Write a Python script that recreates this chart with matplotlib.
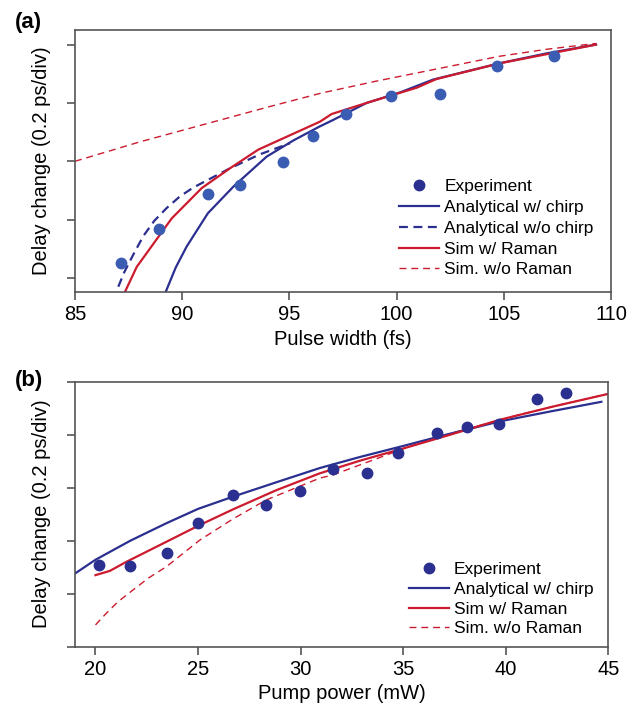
import matplotlib
matplotlib.use('Agg')
import matplotlib.pyplot as plt

plt.rcParams['font.family'] = ['Liberation Sans', 'DejaVu Sans']

navy = '#2b2f8f'
dotblue = '#3a5db3'
red = '#cc1b2e'
grey = '#555555'

# ---- panel (a): delay vs pulse width ----
a_exp_x = [87.13, 88.93, 91.22, 92.70, 94.69, 96.09, 97.64, 99.72, 102.02, 104.67, 107.36]
a_exp_y = [0.25, 0.835, 1.44, 1.59, 1.98, 2.44, 2.81, 3.12, 3.16, 3.64, 3.80]

a_chirp_x = [89.23, 89.7, 90.21, 91.2, 92.4, 93.94, 95.2, 96.43, 97.05, 98.6, 100.16, 101.7, 104.8, 107.0, 109.3]
a_chirp_y = [-0.24, 0.18, 0.54, 1.11, 1.57, 2.08, 2.36, 2.6, 2.71, 3.0, 3.18, 3.4, 3.68, 3.85, 4.0]

a_nochirp_x = [87.02, 87.3, 87.72, 88.19, 88.7, 89.28, 89.9, 90.52, 91.4, 92.23, 93.63, 95.03]
a_nochirp_y = [-0.15, 0.1, 0.4, 0.72, 0.98, 1.2, 1.4, 1.55, 1.72, 1.88, 2.12, 2.31]

a_raman_x = [87.33, 87.88, 89.51, 90.91, 92.23, 93.55, 94.87, 96.43, 96.97, 98.6, 100.93, 101.86, 104.82, 109.3]
a_raman_y = [-0.24, 0.19, 1.02, 1.54, 1.88, 2.2, 2.42, 2.68, 2.81, 3.0, 3.26, 3.41, 3.68, 4.0]

a_noraman_x = [85.0, 88.0, 91.0, 94.0, 96.5, 99.0, 101.7, 104.8, 107.0, 109.3]
a_noraman_y = [2.0, 2.33, 2.63, 2.93, 3.17, 3.37, 3.57, 3.8, 3.92, 4.02]

# ---- panel (b): delay vs pump power ----
b_exp_x = [20.18, 21.7, 23.49, 25.0, 26.68, 28.33, 29.99, 31.58, 33.24, 34.75, 36.65, 38.13, 39.65, 41.54, 42.95]
b_exp_y = [1.55, 1.53, 1.76, 2.34, 2.86, 2.67, 2.94, 3.35, 3.28, 3.65, 4.03, 4.15, 4.2, 4.67, 4.78]

b_chirp_x = [19.0, 20.0, 21.7, 23.46, 25.0, 26.7, 28.8, 30.93, 32.9, 34.83, 37.3, 39.7, 42.2, 44.66]
b_chirp_y = [1.38, 1.64, 2.0, 2.33, 2.6, 2.83, 3.1, 3.37, 3.58, 3.77, 4.02, 4.25, 4.44, 4.62]

b_raman_x = [20.0, 20.7, 21.5, 23.46, 25.0, 26.7, 28.8, 30.93, 32.9, 34.83, 37.3, 39.7, 42.3, 45.0]
b_raman_y = [1.35, 1.43, 1.6, 1.98, 2.28, 2.59, 2.95, 3.27, 3.51, 3.72, 4.0, 4.28, 4.53, 4.77]

b_noraman_x = [20.0, 20.5, 21.1, 21.83, 22.6, 23.46, 25.08, 26.7, 28.33, 30.93, 31.58, 34.83, 36.45, 38.5, 40.5, 42.5, 45.0]
b_noraman_y = [0.41, 0.62, 0.85, 1.07, 1.3, 1.51, 2.01, 2.41, 2.77, 3.18, 3.24, 3.71, 3.93, 4.15, 4.36, 4.55, 4.77]

fig = plt.figure(figsize=(6.37, 7.13), dpi=100)
ax1 = fig.add_axes([0.1177, 0.5905, 0.8415, 0.3674])
ax2 = fig.add_axes([0.1177, 0.0930, 0.8373, 0.3717])

for ax in (ax1, ax2):
    for s in ax.spines.values():
        s.set_color(grey)
        s.set_linewidth(1.2)
    ax.tick_params(direction='out', length=6, width=1.2, color=grey, labelsize=14.5)

# (a)
ax1.plot(a_noraman_x, a_noraman_y, color=red, lw=1.0, dashes=(5, 3.5), label='Sim. w/o Raman')
ax1.plot(a_nochirp_x, a_nochirp_y, color=navy, lw=1.6, dashes=(4, 2.5), label='Analytical w/o chirp')
ax1.plot(a_chirp_x, a_chirp_y, color=navy, lw=1.6, label='Analytical w/ chirp')
ax1.plot(a_raman_x, a_raman_y, color=red, lw=1.6, label='Sim w/ Raman')
ax1.plot(a_exp_x, a_exp_y, 'o', color=dotblue, ms=7.5, label='Experiment')
ax1.set_xlim(85, 110)
ax1.set_ylim(-0.24, 4.25)
ax1.set_xticks([85, 90, 95, 100, 105, 110])
ax1.set_yticks([0, 1, 2, 3, 4])
ax1.set_yticklabels([])
ax1.set_xlabel('Pulse width (fs)', fontsize=14.5, labelpad=4)
ax1.set_ylabel('Delay change (0.2 ps/div)', fontsize=14.5, labelpad=8)
h, l = ax1.get_legend_handles_labels()
order = [4, 2, 1, 3, 0]
leg1 = ax1.legend([h[i] for i in order], [l[i] for i in order], loc='upper left',
                  bbox_to_anchor=(0.605, 0.43), frameon=False, fontsize=12.5,
                  handlelength=2.3, handletextpad=0.3, labelspacing=0.32,
                  borderpad=0, borderaxespad=0)
leg1.legend_handles[0].set_color(navy)
fig.text(15 / 637, 1 - 28 / 713, '(a)', fontsize=16, fontweight='bold', va='baseline')

# (b)
ax2.plot(b_noraman_x, b_noraman_y, color=red, lw=1.0, dashes=(5, 3.5), label='Sim. w/o Raman')
ax2.plot(b_chirp_x, b_chirp_y, color=navy, lw=1.6, label='Analytical w/ chirp')
ax2.plot(b_raman_x, b_raman_y, color=red, lw=1.6, label='Sim w/ Raman')
ax2.plot(b_exp_x, b_exp_y, 'o', color=navy, ms=7.5, label='Experiment')
ax2.set_xlim(19, 45)
ax2.set_ylim(0, 5)
ax2.set_xticks([20, 25, 30, 35, 40, 45])
ax2.set_yticks([0, 1, 2, 3, 4, 5])
ax2.set_yticklabels([])
ax2.set_xlabel('Pump power (mW)', fontsize=14.5, labelpad=4)
ax2.set_ylabel('Delay change (0.2 ps/div)', fontsize=14.5, labelpad=8)
h, l = ax2.get_legend_handles_labels()
order = [3, 1, 2, 0]
ax2.legend([h[i] for i in order], [l[i] for i in order], loc='upper left',
           bbox_to_anchor=(0.626, 0.319), frameon=False, fontsize=12.5,
           handlelength=2.3, handletextpad=0.3, labelspacing=0.26,
           borderpad=0, borderaxespad=0)
fig.text(15 / 637, 1 - 386 / 713, '(b)', fontsize=16, fontweight='bold', va='baseline')

fig.savefig('out.png', dpi=100)
